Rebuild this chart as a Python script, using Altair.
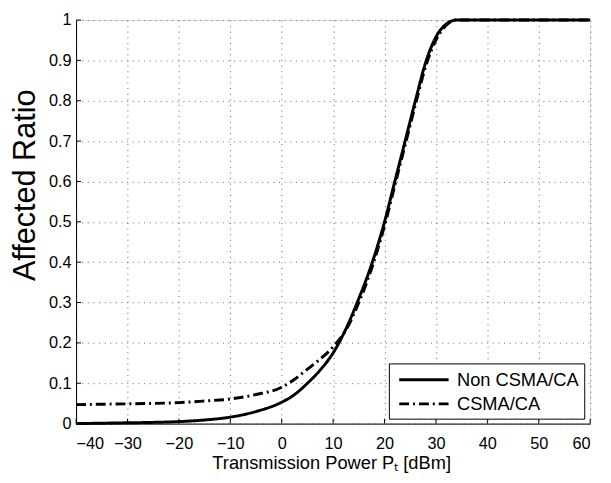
import altair as alt
import pandas as pd

# Transmission power [dBm]
x_vals = [-40, -35, -30, -25, -20, -15, -10, -5, 0, 2.5, 5, 7.5, 10, 12.5, 15,
          17.5, 20, 22, 24, 26, 28, 30, 32, 34, 40, 50, 60]
non_csma = [0.0, 0.001, 0.002, 0.003, 0.005, 0.009, 0.016, 0.03, 0.053, 0.072,
            0.1, 0.133, 0.175, 0.235, 0.31, 0.395, 0.5, 0.6, 0.7, 0.8,
            0.895, 0.958, 0.99, 1.0, 1.0, 1.0, 1.0]
csma = [0.047, 0.048, 0.049, 0.05, 0.052, 0.056, 0.061, 0.072, 0.09, 0.11,
        0.135, 0.16, 0.19, 0.232, 0.3, 0.385, 0.49, 0.59, 0.69, 0.79,
        0.885, 0.95, 0.987, 1.0, 1.0, 1.0, 1.0]
series_names = ["Non CSMA/CA", "CSMA/CA"]
x_ticks = [-40, -30, -20, -10, 0, 10, 20, 30, 40, 50, 60]
y_ticks = [0, 0.1, 0.2, 0.3, 0.4, 0.5, 0.6, 0.7, 0.8, 0.9, 1.0]

rows = []
for name, ys in zip(series_names, [non_csma, csma]):
    for xv, yv in zip(x_vals, ys):
        rows.append({"x": xv, "y": yv, "series": name})
df = pd.DataFrame(rows)
df_xt = pd.DataFrame({"x": x_ticks})
df_yt = pd.DataFrame({"y": y_ticks})

FONT = "Liberation Sans"
xscale = alt.Scale(domain=[-40, 60], nice=False, zero=False)
yscale = alt.Scale(domain=[0, 1], nice=False)

lines = alt.Chart(df).mark_line(color="black", strokeWidth=3, interpolate="monotone").encode(
    x=alt.X("x:Q", scale=xscale,
            axis=alt.Axis(values=x_ticks, title="Transmission Power Pₜ [dBm]",
                          titleFontSize=18.5, titleFontWeight="normal", titleFont=FONT,
                          titleX=258.5, titleY=45.5, titleBaseline="alphabetic",
                          titleAlign="center",
                          labelFontSize=16.5, labelFont=FONT, labelColor="black",
                          labelPadding=12.5, ticks=False, tickSize=0,
                          domainColor="black", domainWidth=1,
                          grid=True, gridDash=[1, 4.7], gridColor="#666", gridWidth=1)),
    y=alt.Y("y:Q", scale=yscale,
            axis=alt.Axis(values=y_ticks, format=".1~f", title="Affected Ratio",
                          titleFontSize=31, titleFontWeight="normal", titleFont=FONT,
                          titleX=-42, titleY=167, titleAngle=270,
                          titleBaseline="alphabetic", titleAlign="center",
                          labelFontSize=16.5, labelFont=FONT, labelColor="black",
                          labelPadding=5, ticks=False, tickSize=0,
                          domainColor="black", domainWidth=1,
                          grid=True, gridDash=[1, 4.7], gridColor="#666", gridWidth=1)),
    strokeDash=alt.StrokeDash("series:N",
                              scale=alt.Scale(domain=series_names, range=[[1, 0], [10, 4, 2, 4]]),
                              legend=alt.Legend(title=None, orient="none", legendX=317, legendY=348,
                                                padding=5, strokeColor="black", fillColor="white",
                                                cornerRadius=0, labelFontSize=18.5, labelFont=FONT,
                                                labelColor="black", labelOffset=22,
                                                labelExpr="datum.label + '\u00a0\u00a0\u00a0\u00a0'",
                                                symbolType="M-2.5,0L2.5,0", symbolSize=400,
                                                symbolOffset=19,
                                                symbolStrokeWidth=3, symbolStrokeColor="black",
                                                rowPadding=3.5)),
)

xt = alt.Chart(df_xt).mark_rule(color="black", strokeWidth=1).encode(
    x=alt.X("x:Q", scale=xscale), y=alt.value(409), y2=alt.value(404)
)
yt = alt.Chart(df_yt).mark_rule(color="black", strokeWidth=1).encode(
    y=alt.Y("y:Q", scale=yscale), x=alt.value(0), x2=alt.value(5)
)

chart = alt.layer(xt, yt, lines).properties(
    width=521, height=409,
    autosize=alt.AutoSizeParams(type="none"),
    padding={"left": 69, "top": 9, "right": 13, "bottom": 57},
).configure_view(stroke=None).configure(background="white")

chart.save("out.html", embed_options={"renderer": "svg", "actions": False})
